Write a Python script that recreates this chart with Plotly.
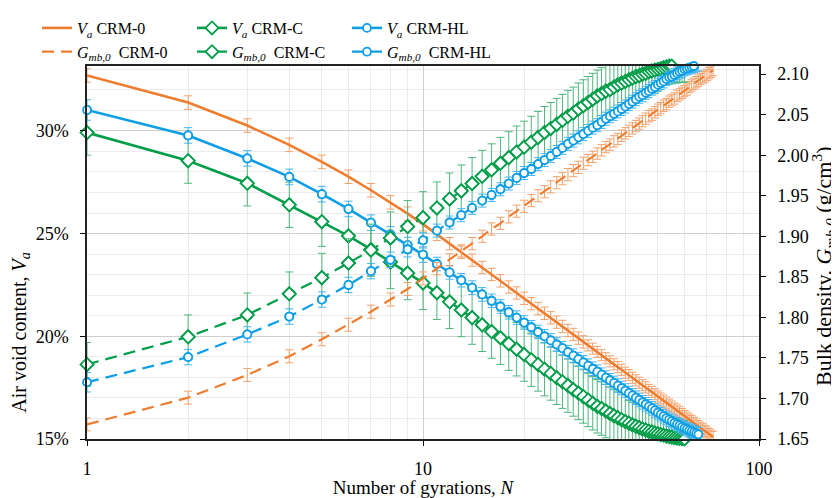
import plotly.graph_objects as go

# ---------------- data ----------------
N_GYR = [1, 2, 3, 4, 5, 6, 7, 8, 9, 10,
         11, 12, 13, 14, 15, 16, 17, 18, 19, 20,
         21, 22, 23, 24, 25, 26, 27, 28, 29, 30,
         31, 32, 33, 34, 35, 36, 37, 38, 39, 40,
         41, 42, 43, 44, 45, 46, 47, 48, 49, 50,
         51, 52, 53, 54, 55, 56, 57, 58, 59, 60,
         61, 62, 63, 64, 65, 66, 67, 68, 69, 70,
         71, 72, 73]

VA_CRM0 = [32.70, 31.38, 30.26, 29.32, 28.49, 27.77, 27.11, 26.52, 25.97, 25.46,
           24.96, 24.51, 24.09, 23.71, 23.35, 23.01, 22.70, 22.40, 22.11, 21.85,
           21.59, 21.35, 21.12, 20.90, 20.69, 20.48, 20.28, 20.09, 19.91, 19.73,
           19.56, 19.40, 19.24, 19.08, 18.93, 18.78, 18.64, 18.50, 18.37, 18.23,
           18.11, 17.98, 17.86, 17.74, 17.62, 17.51, 17.39, 17.29, 17.18, 17.07,
           16.97, 16.87, 16.77, 16.67, 16.58, 16.48, 16.39, 16.30, 16.21, 16.12,
           16.04, 15.95, 15.87, 15.79, 15.71, 15.63, 15.55, 15.47, 15.39, 15.32,
           15.24, 15.17, 15.10]
ERR_VA_CRM0 = [0.33, 0.33, 0.33, 0.33, 0.33, 0.33, 0.33, 0.33, 0.33, 0.33,
               0.30, 0.30, 0.30, 0.30, 0.30, 0.30, 0.30, 0.30, 0.30, 0.30,
               0.30, 0.30, 0.30, 0.30, 0.30, 0.30, 0.30, 0.30, 0.30, 0.30,
               0.27, 0.27, 0.27, 0.27, 0.27, 0.27, 0.27, 0.27, 0.27, 0.27,
               0.27, 0.27, 0.27, 0.27, 0.27, 0.27, 0.27, 0.27, 0.27, 0.27,
               0.27, 0.27, 0.27, 0.27, 0.27, 0.27, 0.27, 0.27, 0.27, 0.27,
               0.27, 0.27, 0.27, 0.27, 0.27, 0.27, 0.27, 0.27, 0.27, 0.27,
               0.27, 0.27, 0.27]
GMB_CRM0 = [1.668, 1.701, 1.729, 1.752, 1.773, 1.791, 1.807, 1.822, 1.835, 1.848,
            1.860, 1.871, 1.882, 1.891, 1.900, 1.909, 1.916, 1.924, 1.931, 1.937,
            1.944, 1.950, 1.955, 1.961, 1.966, 1.971, 1.976, 1.981, 1.985, 1.990,
            1.994, 1.998, 2.002, 2.006, 2.010, 2.013, 2.017, 2.020, 2.024, 2.027,
            2.030, 2.033, 2.036, 2.039, 2.042, 2.045, 2.048, 2.050, 2.053, 2.056,
            2.058, 2.061, 2.063, 2.066, 2.068, 2.070, 2.073, 2.075, 2.077, 2.079,
            2.081, 2.084, 2.086, 2.088, 2.090, 2.092, 2.094, 2.096, 2.097, 2.099,
            2.101, 2.103, 2.105]
ERR_GMB_CRM0 = [0.008, 0.008, 0.008, 0.008, 0.008, 0.008, 0.008, 0.008, 0.008, 0.008,
                0.0075, 0.0075, 0.0075, 0.0075, 0.0075, 0.0075, 0.0075, 0.0075, 0.0075, 0.0075,
                0.0075, 0.0075, 0.0075, 0.0075, 0.0075, 0.0075, 0.0075, 0.0075, 0.0075, 0.0075,
                0.007, 0.007, 0.007, 0.007, 0.007, 0.007, 0.007, 0.007, 0.007, 0.007,
                0.007, 0.007, 0.007, 0.007, 0.007, 0.007, 0.007, 0.007, 0.007, 0.007,
                0.007, 0.007, 0.007, 0.007, 0.007, 0.007, 0.007, 0.007, 0.007, 0.007,
                0.007, 0.007, 0.007, 0.007, 0.007, 0.007, 0.007, 0.007, 0.007, 0.007,
                0.007, 0.007, 0.007]

VA_CRMC = [29.92, 28.55, 27.45, 26.40, 25.58, 24.89, 24.23, 23.62, 23.08, 22.60,
           22.12, 21.68, 21.28, 20.91, 20.56, 20.23, 19.93, 19.64, 19.37, 19.11,
           18.86, 18.63, 18.40, 18.19, 17.98, 17.79, 17.60, 17.41, 17.24, 17.07,
           16.90, 16.74, 16.59, 16.48, 16.36, 16.24, 16.13, 16.03, 15.94, 15.85,
           15.77, 15.69, 15.62, 15.56, 15.49, 15.44, 15.38, 15.34, 15.29, 15.25,
           15.21, 15.18, 15.14, 15.11, 15.09, 15.06, 15.04, 15.02, 15.01, 15.00]
ERR_VA_CRMC = [1.1, 1.1, 1.1, 1.1, 1.2, 1.2, 1.3, 1.3, 1.3, 1.3,
               1.3, 1.3, 1.3, 1.3, 1.3, 1.3, 1.3, 1.3, 1.3, 1.3,
               1.3, 1.3, 1.3, 1.3, 1.3, 1.3, 1.3, 1.3, 1.3, 1.3,
               1.3, 1.3, 1.3, 1.3, 1.3, 1.3, 1.3, 1.3, 1.3, 1.3,
               1.1, 1.1, 1.1, 1.1, 1.1, 1.1, 1.1, 1.1, 1.1, 1.1,
               0.9, 0.9, 0.9, 0.9, 0.9, 0.9, 0.9, 0.9, 0.9, 0.9]
GMB_CRMC = [1.742, 1.776, 1.803, 1.829, 1.849, 1.867, 1.883, 1.898, 1.912, 1.923,
            1.935, 1.946, 1.956, 1.965, 1.974, 1.982, 1.990, 1.997, 2.004, 2.010,
            2.016, 2.022, 2.028, 2.033, 2.038, 2.043, 2.048, 2.052, 2.057, 2.061,
            2.065, 2.069, 2.073, 2.076, 2.079, 2.081, 2.084, 2.087, 2.089, 2.091,
            2.093, 2.095, 2.097, 2.098, 2.100, 2.101, 2.103, 2.104, 2.105, 2.106,
            2.107, 2.108, 2.109, 2.110, 2.110, 2.111, 2.111, 2.112, 2.112, 2.112]
ERR_GMB_CRMC = [0.027, 0.027, 0.027, 0.027, 0.030, 0.030, 0.032, 0.032, 0.032, 0.032,
                0.032, 0.032, 0.032, 0.032, 0.032, 0.032, 0.032, 0.032, 0.032, 0.032,
                0.032, 0.032, 0.032, 0.032, 0.032, 0.032, 0.032, 0.032, 0.032, 0.032,
                0.032, 0.032, 0.032, 0.032, 0.032, 0.032, 0.032, 0.032, 0.032, 0.032,
                0.027, 0.027, 0.027, 0.027, 0.027, 0.027, 0.027, 0.027, 0.027, 0.027,
                0.022, 0.022, 0.022, 0.022, 0.022, 0.022, 0.022, 0.022, 0.022, 0.022]

VA_CRMHL = [31.02, 29.78, 28.66, 27.76, 26.92, 26.20, 25.53, 24.96, 24.44, 23.98,
            23.52, 23.11, 22.73, 22.37, 22.04, 21.73, 21.45, 21.17, 20.91, 20.67,
            20.44, 20.21, 20.00, 19.80, 19.60, 19.42, 19.23, 19.06, 18.89, 18.73,
            18.57, 18.42, 18.28, 18.13, 17.99, 17.86, 17.73, 17.60, 17.48, 17.36,
            17.24, 17.12, 17.01, 16.90, 16.79, 16.69, 16.59, 16.49, 16.39, 16.29,
            16.20, 16.11, 16.02, 15.94, 15.87, 15.79, 15.72, 15.66, 15.59, 15.53,
            15.48, 15.42, 15.37, 15.32, 15.27, 15.23]
ERR_VA_CRMHL = [0.50, 0.38, 0.38, 0.38, 0.38, 0.38, 0.38, 0.38, 0.38, 0.38,
                0.33, 0.33, 0.33, 0.33, 0.33, 0.33, 0.33, 0.33, 0.33, 0.33,
                0.33, 0.33, 0.33, 0.33, 0.33, 0.33, 0.33, 0.33, 0.33, 0.33,
                0.33, 0.33, 0.33, 0.33, 0.33, 0.33, 0.33, 0.33, 0.33, 0.33,
                0.33, 0.33, 0.33, 0.33, 0.33, 0.33, 0.33, 0.33, 0.33, 0.33,
                0.33, 0.33, 0.33, 0.33, 0.33, 0.33, 0.33, 0.33, 0.33, 0.33,
                0.33, 0.33, 0.33, 0.33, 0.33, 0.33]
GMB_CRMHL = [1.720, 1.751, 1.779, 1.801, 1.822, 1.840, 1.857, 1.871, 1.884, 1.895,
             1.907, 1.917, 1.926, 1.935, 1.944, 1.951, 1.958, 1.965, 1.972, 1.978,
             1.983, 1.989, 1.994, 1.999, 2.004, 2.009, 2.014, 2.018, 2.022, 2.026,
             2.030, 2.034, 2.037, 2.041, 2.045, 2.048, 2.051, 2.054, 2.057, 2.060,
             2.063, 2.066, 2.069, 2.072, 2.074, 2.077, 2.079, 2.082, 2.084, 2.087,
             2.089, 2.091, 2.094, 2.096, 2.097, 2.099, 2.101, 2.103, 2.104, 2.106,
             2.107, 2.108, 2.109, 2.110, 2.111, 2.112]
ERR_GMB_CRMHL = [0.012, 0.0095, 0.0095, 0.0095, 0.0095, 0.0095, 0.0095, 0.0095, 0.0095, 0.0095,
                 0.008, 0.008, 0.008, 0.008, 0.008, 0.008, 0.008, 0.008, 0.008, 0.008,
                 0.008, 0.008, 0.008, 0.008, 0.008, 0.008, 0.008, 0.008, 0.008, 0.008,
                 0.008, 0.008, 0.008, 0.008, 0.008, 0.008, 0.008, 0.008, 0.008, 0.008,
                 0.008, 0.008, 0.008, 0.008, 0.008, 0.008, 0.008, 0.008, 0.008, 0.008,
                 0.008, 0.008, 0.008, 0.008, 0.008, 0.008, 0.008, 0.008, 0.008, 0.008,
                 0.008, 0.008, 0.008, 0.008, 0.008, 0.008]

X_TICKS = [1, 10, 100]
X_TICK_TEXT = ["1", "10", "100"]
X_MINOR = [2, 3, 4, 5, 6, 7, 8, 9, 20, 30, 40, 50, 60, 70, 80, 90]
VA_TICKS = [15, 20, 25, 30]
VA_TICK_TEXT = ["15%", "20%", "25%", "30%"]
GMB_TICKS = [1.65, 1.70, 1.75, 1.80, 1.85, 1.90, 1.95, 2.00, 2.05, 2.10]

X_TITLE = "Number of gyrations, <i>N</i>"
Y_TITLE = "Air void content, <i>V</i><sub><i>a</i></sub>"
Y2_TITLE = "Bulk density, <i>G</i><sub><i>mb,0</i></sub> (g/cm<sup>3</sup>)"

# ---------------- style ----------------
FONT = "Liberation Serif"
ORANGE, ORANGE_E = "#EF7D30", "#F3A06A"
GREEN, GREEN_E = "#009E48", "#4DB67C"
BLUE, BLUE_E = "#0E9EE6", "#45B5EE"
PAD = "&nbsp;"

fig = go.Figure()


def add_series(x, y, err, name, color, ecolor, dash, symbol, msize, yaxis, group):
    mode = "lines+markers" if symbol else "lines"
    marker = dict(symbol=symbol, size=msize, color="white",
                  line=dict(color=color, width=1.8)) if symbol else None
    fig.add_trace(go.Scatter(
        x=x, y=y, name=name, mode=mode, yaxis=yaxis, legendgroup=group,
        line=dict(color=color, width=2.6 if dash == "solid" else 2.2, dash=dash),
        marker=marker,
        error_y=dict(type="data", array=err, color=ecolor, thickness=1, width=4),
    ))
    if symbol:
        fig.add_trace(go.Scatter(
            x=x, y=y, mode="markers", yaxis=yaxis, showlegend=False, legendgroup=group,
            marker=marker, cliponaxis=False, hoverinfo="skip"))


DASH = "12px,7px"
VA = "<i>V</i><sub><i>a</i></sub> CRM-"
GM = "<i>G</i><sub><i>mb,0</i></sub>&nbsp; CRM-"

add_series(N_GYR[:73], VA_CRM0, ERR_VA_CRM0, VA + "0", ORANGE, ORANGE_E, "solid", None, 0, "y", "crm0")
add_series(N_GYR[:73], GMB_CRM0, ERR_GMB_CRM0, GM + "0", ORANGE, ORANGE_E, DASH, None, 0, "y2", "crm0")
add_series(N_GYR[:60], VA_CRMC, ERR_VA_CRMC, VA + "C", GREEN, GREEN_E, "solid", "diamond", 10, "y", "crmc")
add_series(N_GYR[:60], GMB_CRMC, ERR_GMB_CRMC, GM + "C", GREEN, GREEN_E, DASH, "diamond", 10, "y2", "crmc")
add_series(N_GYR[:66], VA_CRMHL, ERR_VA_CRMHL, VA + "HL", BLUE, BLUE_E, "solid", "circle", 8, "y", "crmhl")
add_series(N_GYR[:66], GMB_CRMHL, ERR_GMB_CRMHL, GM + "HL", BLUE, BLUE_E, DASH, "circle", 8, "y2", "crmhl")

fig.update_layout(
    width=831, height=490,
    margin=dict(l=79, r=80, t=58, b=59, autoexpand=False),
    paper_bgcolor="white", plot_bgcolor="white",
    font=dict(family=FONT, size=18, color="black"),
    showlegend=True,
    legend=dict(orientation="h", traceorder="grouped", tracegroupgap=0,
                xanchor="left", x=-50 / 672, yanchor="top", y=1 + 55 / 373,
                entrywidth=110, entrywidthmode="pixels",
                font=dict(family=FONT, size=16, color="black"),
                bgcolor="rgba(0,0,0,0)", itemwidth=30, groupclick="toggleitem"),
    xaxis=dict(
        type="log", range=[0, 2], automargin=False,
        tickvals=X_TICKS, ticktext=X_TICK_TEXT,
        ticks="outside", ticklen=5, tickcolor="black", ticklabelstandoff=8,
        showline=True, linecolor="#222", linewidth=1.5, mirror=True,
        showgrid=True, gridcolor="#cfcfcf", gridwidth=1.2,
        minor=dict(tickvals=X_MINOR, showgrid=True, gridcolor="#ebebeb", gridwidth=1.2, ticks=""),
        tickfont=dict(size=18),
        title=dict(text=X_TITLE, font=dict(size=19), standoff=10),
        zeroline=False,
    ),
    yaxis=dict(
        range=[15, 33.16], automargin=False,
        tickvals=VA_TICKS, ticktext=VA_TICK_TEXT,
        ticks="outside", ticklen=5, tickcolor="black", ticklabelstandoff=8,
        showline=True, linecolor="#222", linewidth=1.5,
        showgrid=True, gridcolor="#cfcfcf", gridwidth=1.2,
        minor=dict(tick0=15, dtick=1, showgrid=True, gridcolor="#ebebeb", gridwidth=1.2, ticks=""),
        tickfont=dict(size=18),
        title=dict(text=Y_TITLE + PAD * 32, font=dict(size=20), standoff=4),
        zeroline=False,
    ),
    yaxis2=dict(
        overlaying="y", side="right", automargin=False,
        range=[1.65, 2.11],
        tickvals=GMB_TICKS, tickformat=".2f",
        ticks="outside", ticklen=5, tickcolor="black", ticklabelstandoff=8,
        showline=True, linecolor="#222", linewidth=1.5,
        showgrid=False, zeroline=False,
        tickfont=dict(size=18),
        title=dict(text=Y2_TITLE + PAD * 5, font=dict(size=22), standoff=13),
    ),
)

fig.write_html("out.html")
